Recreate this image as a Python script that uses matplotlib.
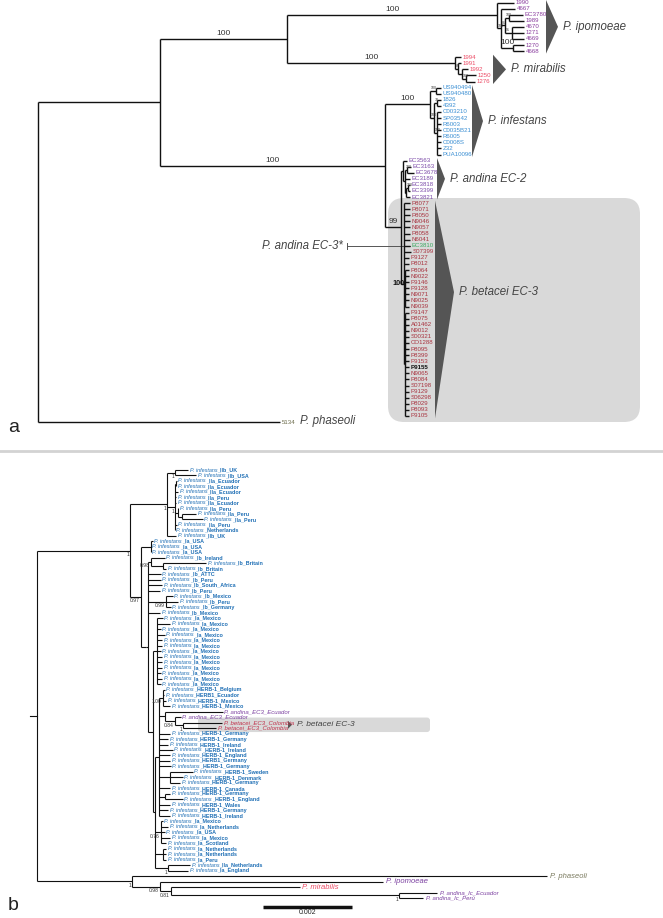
import matplotlib
matplotlib.use("Agg")
import matplotlib.pyplot as plt
from matplotlib.patches import Polygon, FancyBboxPatch
from matplotlib.collections import LineCollection

plt.rcParams['font.family'] = ['Liberation Sans', 'DejaVu Sans']

# ---------------- DATA: panel a (branch lengths in drawing units) ----------------
backbone_a = "(((IPO:210,MIR:168)100:127,(INF:45,(EC2:2,BET:3)99:16)100:225):122,5134:242)"
ipomoeae_a = "(1990:17,(4667:14,((EC3780:14,1989:15)100:4,(4670:12,1271:12,4669:12)91:7)81:4,(1270:11,4668:11)100:12)100:4)100"
mirabilis_a = "(1994:6,(1991:3,(1992:6,(1250:10,1276:9)100:4):4)87:3)100"
infestans_a = ("((US940494:5,US940480:5)100:6,((1826:4,4392:4)70:3,(C003210:4,SP03542:4,R6003:4,"
               "C0035B21:4,R6005:4,C0008S:4,Z32:4,PUA10096:4)100:3)100:4)100")
andina_ec2_a = "(EC3563:4,((EC3163:4,EC3678:7)100:2,EC3189:5,((EC3818:2,EC3399:2)100:2,EC3821:4):1):2)"
betacei_a = ("(P8077:6,P8071:6,P8050:6,N9046:6,N9057:6,P8058:6,N6041:6,EC3810:6,S07399:7,P9127:5,P8012:5,"
             "(P8064:4,N9022:4,P9146:4,P9128:4,N9071:4,N9025:4,N9039:4)100:1,"
             "(P9147:4,P8075:4,A01462:4,N9012:4,S00321:4,CO1288:4,P8095:4,P8399:4,P9153:4,P9155:4,N9065:4,"
             "P8084:4,S07198:4,P9129:4,S06298:4,P8029:4,P8093:4,P9105:4):1)")
clade_names_a = {"IPO": "P. ipomoeae", "MIR": "P. mirabilis", "INF": "P. infestans",
                 "EC2": "P. andina EC-2", "BET": "P. betacei EC-3"}
outgroup_a = "P. phaseoli"
andina_ec3_tip = "EC3810"
andina_ec3_label = "P. andina EC-3*"

# ---------------- DATA: panel b ----------------
backbone_b = "((CII:37,REST:11)1:93,OUT:95)"
clade_II_b = ("((I~IIb_UK:13,I~IIb_USA:21)1:8,((I~IIa_Ecuador:1,I~IIa_Ecuador:0):1,I~IIa_Ecuador:3,I~IIa_Peru:1,"
              "I~IIa_Ecuador:1,(I~IIa_Peru:0,(I~IIa_Peru:14,I~IIa_Peru:21):4):3,I~IIa_Peru:2,I~Netherlands:0)1:8,"
              "I~IIb_UK:9)1")
rest_b = ("((I~Ia_USA:2,I~Ia_USA:0,I~Ia_USA:0):10,"
          "(((I~Ib_Ireland:14,(I~Ib_Britain:43,I~Ib_Britain:3):12)0.98:3,I~Ib_ATTC:13,I~Ib_Peru:13,"
          "I~Ib_South_Africa:14,I~Ib_Peru:12,(I~Ib_Mexico:7,I~Ib_Peru:12,I~Ib_Germany:5)0.99:18,I~Ib_Mexico:12,"
          "((I~Ia_Mexico:6,I~Ia_Mexico:13,I~Ia_Mexico:4,I~Ia_Mexico:8,I~Ia_Mexico:5,I~Ia_Mexico:5,I~Ia_Mexico:4,"
          "I~Ia_Mexico:5,I~Ia_Mexico:5,I~Ia_Mexico:5,I~Ia_Mexico:4,I~Ia_Mexico:5,I~Ia_Mexico:4):4,"
          "(((I~HERB-1_Belgium:2,I~HERB1_Ecuador:1,I~HERB-1_Mexico:3,I~HERB-1_Mexico:7)1.00:4,"
          "(A~EC3_Ecuador:58,(A~EC3_Ecuador:6,(B~EC3_Colombia:39,B~EC3_Colombia:33)1:8)0.84:10):6,"
          "I~HERB-1_Germany:11,I~HERB-1_Germany:9,I~HERB-1_Ireland:9,I~HERB-1_Ireland:14,I~HERB-1_England:11,"
          "I~HERB1_Germany:11,I~HERB-1_Germany:12,(I~HERB-1_Sweden:23,I~HERB-1_Denmark:13,I~HERB-1_Germany:10):11,"
          "I~HERB-1_Canada:11,(I~HERB-1_Germany:5,I~HERB-1_England:18):6,I~HERB-1_Wales:11,I~HERB-1_Germany:9,"
          "I~HERB-1_Ireland:11):4,"
          "(I~Ia_Mexico:2,I~Ia_Netherlands:7,I~Ia_USA:4,I~Ia_Mexico:9,I~Ia_Scotland:5)0.76:6,"
          "(I~Ia_Netherlands:3,I~Ia_Netherlands:3,I~Ia_Peru:3):8,"
          "(I~IIa_Netherlands:22,I~Ia_England:20)1:13):2):5):2):5)0.97")
outgroups_b = ("(P~P. phaseoli:415,(O~P. ipomoeae:223,(M~P. mirabilis:129,"
               "(A~P. andina_Ic_Ecuador:38,A~P. andina_Ic_Perú:24)1:228)0.81:11)0.98:28)1")
species_prefix_b = {"I": "P. infestans", "A": "P. andina", "B": "P. betacei"}
scale_value_b = 0.002
highlight_label_b = "P. betacei EC-3"

# ---------------- helpers ----------------
def parse_newick(s):
    s = s.strip().rstrip(';')
    pos = 0

    def node():
        nonlocal pos
        n = {'children': [], 'label': '', 'len': 0.0}
        if s[pos] == '(':
            pos += 1
            while True:
                n['children'].append(node())
                ch = s[pos]
                pos += 1
                if ch == ')':
                    break
        start = pos
        while pos < len(s) and s[pos] not in ':,()':
            pos += 1
        n['label'] = s[start:pos].strip()
        if pos < len(s) and s[pos] == ':':
            pos += 1
            start = pos
            while pos < len(s) and s[pos] not in ',()':
                pos += 1
            n['len'] = float(s[start:pos])
        return n
    return node()


def leaves(n):
    if not n['children']:
        return [n]
    out = []
    for c in n['children']:
        out += leaves(c)
    return out


def graft(tree, subtrees):
    for lf in leaves(tree):
        if lf['label'] in subtrees:
            key = lf['label']
            sub = parse_newick(subtrees[key])
            lf['children'] = sub['children']
            lf['label'] = sub['label']
            lf['clade'] = key
            for t in leaves(lf):
                t['clade'] = key


def layout(n, x, counter, y0, dy):
    n['x'] = x
    if not n['children']:
        n['y'] = y0 + counter[0] * dy
        counter[0] += 1
    else:
        for c in n['children']:
            layout(c, x + c['len'], counter, y0, dy)
        n['y'] = (n['children'][0]['y'] + n['children'][-1]['y']) / 2


def segments(n, segs, labels, parent_x=None):
    if parent_x is not None:
        segs.append([(parent_x, n['y']), (n['x'], n['y'])])
    if n['children']:
        ys = [c['y'] for c in n['children']]
        segs.append([(n['x'], min(ys)), (n['x'], max(ys))])
        if n['label']:
            labels.append((n, parent_x))
        for c in n['children']:
            segments(c, segs, labels, n['x'])


fig = plt.figure(figsize=(6.63, 9.18), dpi=100)
ax = fig.add_axes([0, 0, 1, 1])
ax.set_xlim(0, 663)
ax.set_ylim(918, 0)
ax.axis('off')

# ======================= PANEL A =======================
colors_a = {"IPO": "#8a3d9e", "MIR": "#ec4c66", "INF": "#3b8fd3", "EC2": "#7b4aa8", "BET": "#a8333f"}
tree_a = parse_newick(backbone_a)
graft(tree_a, {"IPO": ipomoeae_a, "MIR": mirabilis_a, "INF": infestans_a, "EC2": andina_ec2_a, "BET": betacei_a})
layout(tree_a, 38, [0], 2.5, 6.08)

ax.add_patch(FancyBboxPatch((388, 198), 252, 224, boxstyle="round,pad=0,rounding_size=16",
                            fc="#d9d9d9", ec="none", zorder=0))

segs, sup = [], []
segments(tree_a, segs, sup)
ax.add_collection(LineCollection(segs, colors="#111111", linewidths=1.0, zorder=2))
for n, px in sup:
    if px is None:
        continue
    in_bet = leaves(n)[0].get('clade') == 'BET' and n.get('clade') is None
    if in_bet:
        ax.text(n['x'] - 0.5, n['y'] - 5, n['label'], fontsize=5.2, fontweight='bold', color="#111111",
                ha='right', va='center', zorder=3)
    elif (n['x'] - px) > 10:
        ax.text((n['x'] + px) / 2, n['y'] - 2, n['label'], fontsize=6, color="#333333",
                ha='center', va='bottom', zorder=3)
    else:
        ax.text(px + 0.5, n['y'] - 0.8, n['label'], fontsize=2.6, color="#333333",
                ha='left', va='bottom', zorder=3)

for lf in leaves(tree_a):
    key = lf.get('clade')
    col = colors_a.get(key, "#6b6b4a")
    weight = 'normal'
    if lf['label'] == andina_ec3_tip:
        col = "#3aa860"
    if lf['label'] == "P9155":
        col, weight = "#111111", 'bold'
    ax.text(lf['x'] + 1.5, lf['y'], lf['label'], fontsize=4.4, color=col, fontweight=weight,
            ha='left', va='center', zorder=3)

tri_style = {"IPO": (546, 12), "MIR": (493, 13), "INF": (472, 11), "EC2": (437, 8), "BET": (435, 19)}
for key, (lx, w) in tri_style.items():
    tips = [lf for lf in leaves(tree_a) if lf.get('clade') == key]
    top, bot = tips[0]['y'] - 2.5, tips[-1]['y'] + 2.5
    apex = (top + bot) / 2 if key != "BET" else top + 0.42 * (bot - top)
    ax.add_patch(Polygon([[lx, top], [lx, bot], [lx + w, apex]], closed=True, fc="#555555", ec="none", zorder=2))
    ax.text(lx + w + 5, apex, clade_names_a[key], fontsize=8.3, style='italic', color="#444444",
            ha='left', va='center', zorder=3)

og = [lf for lf in leaves(tree_a) if 'clade' not in lf][0]
ax.text(og['x'] + 20, og['y'] - 1, outgroup_a, fontsize=8.3, style='italic', color="#444444",
        ha='left', va='center')

ec3 = [lf for lf in leaves(tree_a) if lf['label'] == andina_ec3_tip][0]
ax.plot([347, ec3['x']], [ec3['y'], ec3['y']], color="#555555", lw=0.7, zorder=1)
ax.plot([347, 347], [ec3['y'] - 3, ec3['y'] + 3], color="#555555", lw=0.7)
ax.text(343, ec3['y'], andina_ec3_label, fontsize=8.3, style='italic', color="#444444",
        ha='right', va='center')

ax.text(8, 428, "a", fontsize=14, color="#222222", ha='left', va='center')

ax.plot([0, 663], [451, 451], color="#d3d3d3", lw=2)

# ======================= PANEL B =======================
colors_b = {"I": "#1f6fb5", "A": "#7b3fa0", "B": "#c0304a", "M": "#ec4c66", "O": "#7b3fa0", "P": "#7a7a5e"}
tree_b = parse_newick(backbone_b)
graft(tree_b, {"CII": clade_II_b, "REST": rest_b, "OUT": outgroups_b})
layout(tree_b, 37, [0], 470, 5.49)

segs, sup = [], []
segments(tree_b, segs, sup)
ax.add_collection(LineCollection(segs, colors="#111111", linewidths=0.8, zorder=2))
ax.plot([30, 37], [tree_b['y'], tree_b['y']], color="#111111", lw=0.8)
for n, px in sup:
    if px is None:
        continue
    ax.text(n['x'] - 1, n['y'] + 1.5, n['label'], fontsize=3.6, color="#333333",
            ha='right', va='top', zorder=3)

bet_tips = [lf for lf in leaves(tree_b) if lf['label'].startswith('B~')]
by0, by1 = bet_tips[0]['y'] - 5, bet_tips[-1]['y'] + 4
ax.add_patch(FancyBboxPatch((198, by0), 232, by1 - by0, boxstyle="round,pad=0,rounding_size=3",
                            fc="#d9d9d9", ec="none", zorder=0))
ym = (by0 + by1) / 2
ax.add_patch(Polygon([[288, ym - 4], [288, ym + 4], [292, ym]], closed=True, fc="#555555", ec="none"))
ax.text(297, ym, highlight_label_b, fontsize=6, style='italic', color="#444444", ha='left', va='center')

for lf in leaves(tree_b):
    code, name = lf['label'].split('~', 1)
    col = colors_b[code]
    x, y = lf['x'] + 1.5, lf['y']
    if code == "I":
        t1 = ax.text(x, y, species_prefix_b[code], fontsize=3.9, style='italic', color=col,
                     ha='left', va='center', zorder=3)
        ax.annotate("_" + name, xy=(1, 0), xycoords=t1, fontsize=3.9, fontweight='bold', color=col,
                    ha='left', va='bottom', zorder=3)
    elif code in ("A", "B") and not name.startswith("P."):
        ax.text(x, y, species_prefix_b[code] + "_" + name, fontsize=4.3, style='italic', color=col,
                ha='left', va='center', zorder=3)
    else:
        fs = 5.5 if code in ("M", "P", "O") else 4.3
        ax.text(x + 1, y, name, fontsize=fs, style='italic', color=col, ha='left', va='center', zorder=3)

px_per_unit = 89 / scale_value_b
ax.plot([263, 263 + scale_value_b * px_per_unit], [907, 907], color="#111111", lw=2.5, solid_capstyle='butt')
ax.text(263 + scale_value_b * px_per_unit / 2, 913, f"{scale_value_b:g}", fontsize=5, color="#222222",
        ha='center', va='center')

ax.text(8, 905, "b", fontsize=14, color="#222222", ha='left', va='center')

fig.savefig("out.png", dpi=100)
